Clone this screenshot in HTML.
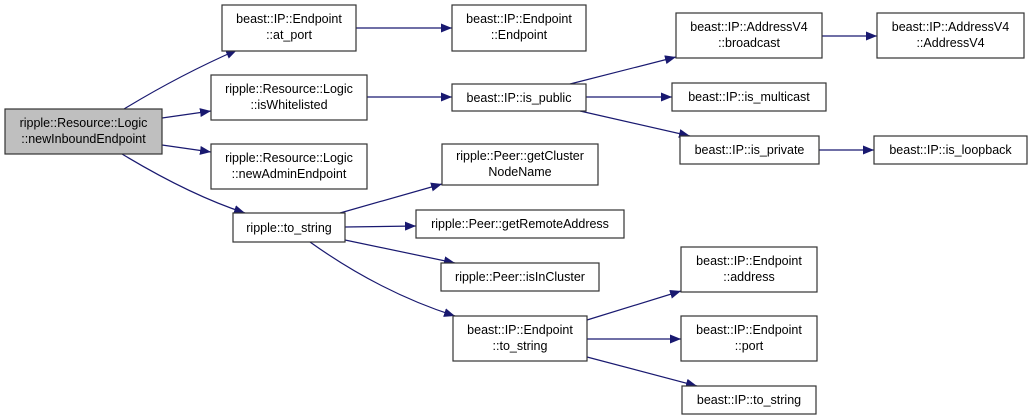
<!DOCTYPE html>
<html><head><meta charset="utf-8"><style>
body{margin:0;background:#fff;width:1032px;height:420px;overflow:hidden}
svg{position:absolute;left:0;top:0}
text{font-family:"Liberation Sans",sans-serif;font-size:12.5px;fill:#000}
rect{fill:#fff;stroke:#333;stroke-width:1.2}
path{fill:none;stroke:#191970;stroke-width:1.2}
</style></head><body>
<svg width="1032" height="420" viewBox="0 0 1032 420">
<defs><marker id="a" viewBox="0 0 11 9" refX="11" refY="4.5" markerWidth="11" markerHeight="9" markerUnits="userSpaceOnUse" orient="auto"><polygon points="0,0 11,4.5 0,9" fill="#191970"/></marker></defs>
<g marker-end="url(#a)">
<path d="M124,109 Q180,75 237,50"/>
<path d="M162,118 L211,111"/>
<path d="M162,145 L211,152"/>
<path d="M122,154 Q190,195 245,213"/>
<path d="M356,28 L452,28"/>
<path d="M367,97 L452,97"/>
<path d="M570,84 L676,57"/>
<path d="M586,97 L672,97"/>
<path d="M580,111 L690,136"/>
<path d="M822,36 L877,36"/>
<path d="M819,150 L874,150"/>
<path d="M340,213 L442,184"/>
<path d="M345,227 L416,226"/>
<path d="M345,240 L455,263"/>
<path d="M310,242 Q380,292 455,316"/>
<path d="M587,320 L681,291"/>
<path d="M587,339 L681,339"/>
<path d="M587,357 L697,386"/>
</g>
<rect x="5" y="109" width="157" height="45" style="fill:#bfbfbf"/>
<text x="83.5" y="127" text-anchor="middle">ripple::Resource::Logic</text><text x="83.5" y="143" text-anchor="middle">::newInboundEndpoint</text>
<rect x="222" y="5" width="134" height="46"/>
<text x="289" y="23" text-anchor="middle">beast::IP::Endpoint</text><text x="289" y="39" text-anchor="middle">::at_port</text>
<rect x="211" y="75" width="156" height="45"/>
<text x="289" y="93" text-anchor="middle">ripple::Resource::Logic</text><text x="289" y="109" text-anchor="middle">::isWhitelisted</text>
<rect x="211" y="144" width="156" height="45"/>
<text x="289" y="162" text-anchor="middle">ripple::Resource::Logic</text><text x="289" y="178" text-anchor="middle">::newAdminEndpoint</text>
<rect x="233" y="213" width="112" height="29"/>
<text x="289" y="232" text-anchor="middle">ripple::to_string</text>
<rect x="452" y="5" width="134" height="46"/>
<text x="519" y="23" text-anchor="middle">beast::IP::Endpoint</text><text x="519" y="39" text-anchor="middle">::Endpoint</text>
<rect x="452" y="84" width="134" height="27"/>
<text x="519" y="102" text-anchor="middle">beast::IP::is_public</text>
<rect x="442" y="144" width="156" height="41"/>
<text x="520" y="160" text-anchor="middle">ripple::Peer::getCluster</text><text x="520" y="176" text-anchor="middle">NodeName</text>
<rect x="416" y="210" width="208" height="28"/>
<text x="520" y="228" text-anchor="middle">ripple::Peer::getRemoteAddress</text>
<rect x="441" y="263" width="158" height="28"/>
<text x="520" y="281" text-anchor="middle">ripple::Peer::isInCluster</text>
<rect x="453" y="316" width="134" height="45"/>
<text x="520" y="334" text-anchor="middle">beast::IP::Endpoint</text><text x="520" y="350" text-anchor="middle">::to_string</text>
<rect x="676" y="13" width="146" height="45"/>
<text x="749" y="31" text-anchor="middle">beast::IP::AddressV4</text><text x="749" y="47" text-anchor="middle">::broadcast</text>
<rect x="877" y="13" width="147" height="45"/>
<text x="950.5" y="31" text-anchor="middle">beast::IP::AddressV4</text><text x="950.5" y="47" text-anchor="middle">::AddressV4</text>
<rect x="672" y="83" width="154" height="28"/>
<text x="749" y="101" text-anchor="middle">beast::IP::is_multicast</text>
<rect x="680" y="136" width="139" height="28"/>
<text x="749.5" y="154" text-anchor="middle">beast::IP::is_private</text>
<rect x="874" y="136" width="153" height="28"/>
<text x="950.5" y="154" text-anchor="middle">beast::IP::is_loopback</text>
<rect x="681" y="247" width="136" height="45"/>
<text x="749" y="265" text-anchor="middle">beast::IP::Endpoint</text><text x="749" y="281" text-anchor="middle">::address</text>
<rect x="681" y="316" width="136" height="45"/>
<text x="749" y="334" text-anchor="middle">beast::IP::Endpoint</text><text x="749" y="350" text-anchor="middle">::port</text>
<rect x="682" y="386" width="134" height="28"/>
<text x="749" y="404" text-anchor="middle">beast::IP::to_string</text>
</svg>
</body></html>
